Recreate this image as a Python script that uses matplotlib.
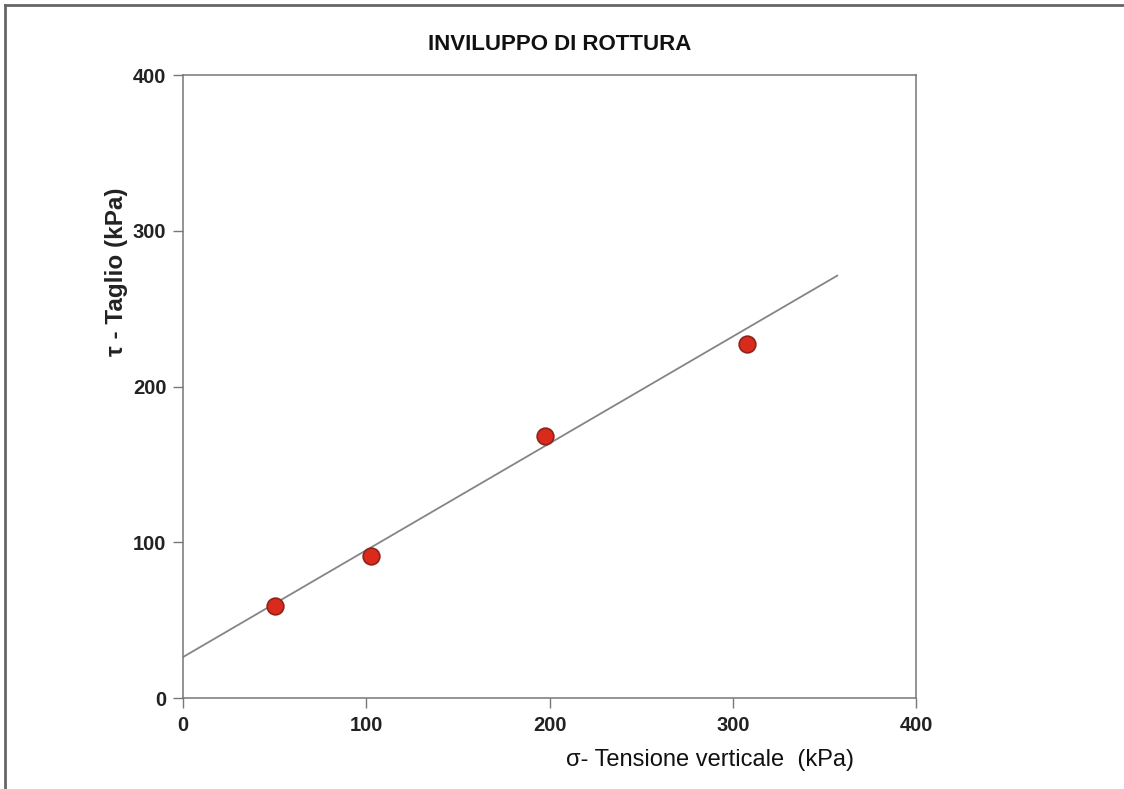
import numpy as np
import matplotlib.pyplot as plt

plt.rcParams['font.family'] = ['Liberation Sans', 'DejaVu Sans']

# prove di taglio: tensione verticale e taglio a rottura (kPa)
sigma = [50, 102.5, 197.5, 308]
tau = [59, 91, 168, 227]

# inviluppo di rottura: coesione e pendenza
coesione = 26.3
pendenza = 0.686
sigma_max = 357

fig = plt.figure(figsize=(11.24, 7.89), dpi=100)
ax = fig.add_axes([0.1628, 0.1153, 0.6522, 0.7896])

xs = np.array([0, sigma_max])
ax.plot(xs, coesione + pendenza * xs, color='#858585', lw=1.3, zorder=2)
ax.plot(sigma, tau, 'o', ms=12, mfc='#da2a1c', mec='#8e2218', mew=1.2, zorder=3)

ax.set_xlim(0, 400)
ax.set_ylim(0, 400)
ax.set_xticks([0, 100, 200, 300, 400])
ax.set_yticks([0, 100, 200, 300, 400])
ax.tick_params(direction='out', length=7, width=1, color='#777777',
               labelsize=14.5)
ax.tick_params(axis='y', pad=5)
ax.tick_params(axis='x', pad=6)
for lab in ax.get_xticklabels() + ax.get_yticklabels():
    lab.set_fontweight('bold')
    lab.set_color('#222222')
for s in ax.spines.values():
    s.set_color('#777777')
    s.set_linewidth(1.1)

fig.text(0.498, 0.943, 'INVILUPPO DI ROTTURA', ha='center', va='center',
         fontsize=16, fontweight='bold', color='#111111')
fig.text(0.632, 0.037, 'σ- Tensione verticale  (kPa)', ha='center', va='center',
         fontsize=17, color='#111111')
fig.text(0.104, 0.655, 'τ - Taglio (kPa)', ha='center', va='center',
         rotation=90, fontsize=17.5, fontweight='bold', color='#222222')

# cornice esterna (solo lato sinistro e superiore)
fig.add_artist(plt.Line2D([0.0045, 0.0045], [0, 0.9935], transform=fig.transFigure,
                          color='#666666', lw=2))
fig.add_artist(plt.Line2D([0.0045, 1], [0.9935, 0.9935], transform=fig.transFigure,
                          color='#666666', lw=2))

fig.savefig('out.png', dpi=100)
